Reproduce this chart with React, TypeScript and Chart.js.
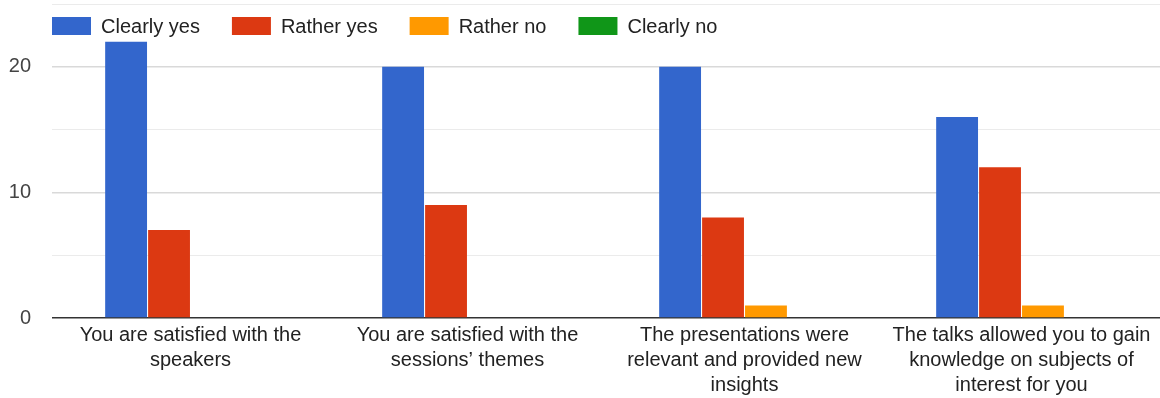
import React, { useEffect, useRef } from "react";
import { Chart, registerables } from "chart.js";

Chart.register(...registerables);

const categories: string[][] = [
  ["You are satisfied with the", "speakers"],
  ["You are satisfied with the", "sessions’ themes"],
  ["The presentations were", "relevant and provided new", "insights"],
  ["The talks allowed you to gain", "knowledge on subjects of", "interest for you"],
];
const seriesNames = ["Clearly yes", "Rather yes", "Rather no", "Clearly no"];
const seriesColors = ["#3366cc", "#dc3912", "#ff9900", "#109618"];
const clearlyYes = [22, 20, 20, 16];
const ratherYes = [7, 9, 8, 12];
const ratherNo = [0, 0, 1, 1];
const clearlyNo = [0, 0, 0, 0];
const yTickLabels = [0, 10, 20];

const FONT = "'Liberation Sans', Arial, sans-serif";

const legendPlugin = {
  id: "insideLegend",
  afterDraw(chart: any) {
    const ctx = chart.ctx;
    ctx.save();
    ctx.font = `20px ${FONT}`;
    ctx.textBaseline = "middle";
    let x = 52;
    const yc = 26;
    chart.data.datasets.forEach((ds: any) => {
      ctx.fillStyle = ds.backgroundColor;
      ctx.fillRect(x, 17, 39, 18);
      ctx.fillStyle = "#222222";
      ctx.fillText(ds.label, x + 49, yc + 1);
      const w = ctx.measureText(ds.label).width;
      x += 49 + w + 32;
    });
    ctx.restore();
  },
};

export default function App() {
  const ref = useRef<HTMLCanvasElement | null>(null);
  useEffect(() => {
    document.body.style.margin = "0";
    const values = [clearlyYes, ratherYes, ratherNo, clearlyNo];
    const chart = new Chart(ref.current!, {
      type: "bar",
      data: {
        labels: categories,
        datasets: seriesNames.map((name, i) => ({
          label: name,
          data: values[i],
          backgroundColor: seriesColors[i],
          borderWidth: 0,
          categoryPercentage: 0.62,
          barPercentage: 0.975,
        })),
      },
      options: {
        animation: false,
        responsive: false,
        maintainAspectRatio: false,
        layout: { padding: { top: 4, right: 0, left: 0, bottom: 0 } },
        plugins: {
          legend: { display: false },
          tooltip: { enabled: false },
        },
        scales: {
          x: {
            grid: { display: false, drawTicks: false },
            border: { display: false },
            ticks: {
              font: { family: FONT, size: 20, lineHeight: 1.25 },
              color: "#222222",
              padding: 5,
              maxRotation: 0,
              autoSkip: false,
            },
            afterFit(scale: any) {
              scale.height = 80;
              scale.paddingLeft = 0;
              scale.paddingRight = 0;
            },
          },
          y: {
            min: 0,
            max: 25,
            border: { display: false },
            grid: {
              drawTicks: false,
              color: (c: any) =>
                c.tick.value === 0 ? "#333333" : c.tick.value % 10 === 0 ? "#d9d9d9" : "#ebebeb",
              lineWidth: (c: any) => (c.tick.value === 0 ? 1.5 : c.tick.value % 10 === 0 ? 1.5 : 1),
            },
            ticks: {
              stepSize: 5,
              font: { family: FONT, size: 20 },
              color: "#444444",
              padding: 21,
              callback: (v: any) => (yTickLabels.includes(Number(v)) ? String(v) : ""),
            },
            afterFit(scale: any) {
              scale.width = 52;
              scale.paddingTop = 0;
              scale.paddingBottom = 0;
            },
          },
        },
      },
      plugins: [legendPlugin],
    });
    return () => chart.destroy();
  }, []);
  return (
    <div style={{ width: 1160, height: 398 }}>
      <canvas ref={ref} width={1160} height={398} style={{ display: "block" }} />
    </div>
  );
}
